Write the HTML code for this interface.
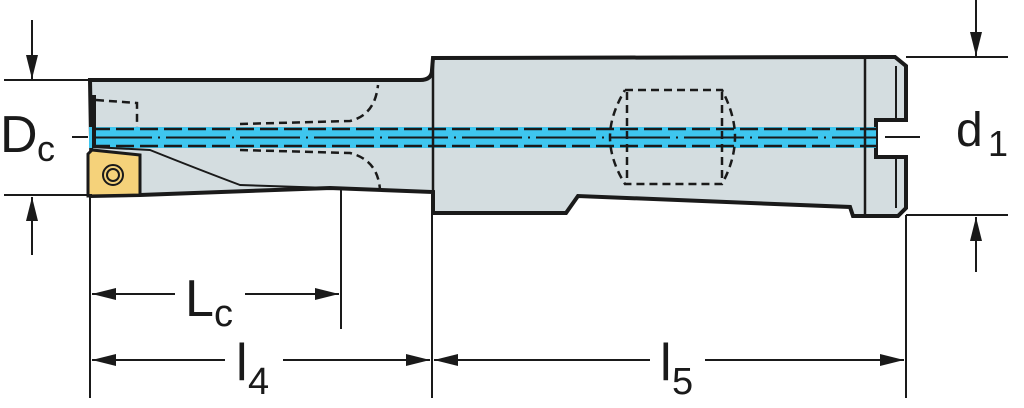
<!DOCTYPE html>
<html><head><style>html,body{margin:0;padding:0;background:#fff}svg{display:block}text{font-family:"Liberation Sans","DejaVu Sans",sans-serif;fill:#1a1a1a}</style></head>
<body>
<svg width="1024" height="408" viewBox="0 0 1024 408" xmlns="http://www.w3.org/2000/svg">
<defs><marker id="a" viewBox="0 0 12 24" refX="6" refY="24" markerWidth="12" markerHeight="24" markerUnits="userSpaceOnUse" orient="0"><path d="M0,0L12,0L6,24z" fill="#1a1a1a"/></marker>
<marker id="u" viewBox="0 0 12 24" refX="6" refY="0" markerWidth="12" markerHeight="24" markerUnits="userSpaceOnUse" orient="0"><path d="M6,0L12,24L0,24z" fill="#1a1a1a"/></marker>
<marker id="b" viewBox="0 0 24 12" refX="24" refY="6" markerWidth="24" markerHeight="12" markerUnits="userSpaceOnUse" orient="auto"><path d="M0,0L24,6L0,12z" fill="#1a1a1a"/></marker></defs>
<g stroke="#1a1a1a" fill="none">
<path d="M90,80 L420,80 Q432,80 432,70 L433,58 L895,57 L906,66 L906,120 L876,120 L876,157 L906,157 L906,208 L898,216 L853,216 L850,207 L578,196 L566,213 L433,213 L433,192 L330,188 L140,195 L92,196 Z" fill="#d4dde0" stroke-width="4"/>
<rect x="89" y="127" width="787" height="21" fill="#3ec6ef" stroke="none"/>
<line x1="865" y1="58" x2="865" y2="214" stroke-width="2.5"/>
<line x1="433" y1="60" x2="433" y2="212" stroke-width="2.5"/>
<line x1="896" y1="66" x2="896" y2="120" stroke-width="2"/>
<line x1="896" y1="157" x2="896" y2="208" stroke-width="2"/>
<path d="M92,150 L88,154 L88,196 L140,195 L140,155 Z" fill="#f5d27a" stroke-width="3"/>
<circle cx="113" cy="175" r="10" stroke-width="2"/><circle cx="113" cy="175" r="6" stroke-width="2"/>
<path d="M92,147 L150,150 Q200,170 240,185 L330,188" stroke-width="2"/>
<path d="M94,147 L94,95" stroke-width="4"/>
<g stroke-dasharray="8,5" stroke-width="2.5">
<path d="M96,100 L137,103 L137,127"/>
<path d="M240,124 L350,121 Q375,115 378,85"/>
<path d="M240,150 L350,153 Q378,160 380,190"/>
<path d="M625,90 L722,90 Q735,115 735,137 Q735,160 722,184 L625,184 Q610,160 610,137 Q610,115 625,90"/>
<line x1="627" y1="92" x2="627" y2="182"/><line x1="722" y1="92" x2="722" y2="182"/>
<line x1="92" y1="129" x2="876" y2="129" stroke-dasharray="18,6"/>
<line x1="92" y1="146" x2="876" y2="146" stroke-dasharray="18,6"/>
</g>
<line x1="92" y1="137.5" x2="876" y2="137.5" stroke-width="2" stroke-dasharray="60,6,2,6"/>
<g stroke-width="2">
<line x1="4" y1="80" x2="92" y2="80"/><line x1="4" y1="195" x2="92" y2="195"/>
<line x1="72" y1="137" x2="88" y2="137"/>
<line x1="906" y1="57" x2="1008" y2="57"/><line x1="906" y1="215" x2="1008" y2="215"/>
<line x1="885" y1="137" x2="920" y2="137"/>
<line x1="90" y1="196" x2="90" y2="398"/><line x1="341" y1="190" x2="341" y2="329"/>
<line x1="432" y1="213" x2="432" y2="398"/><line x1="906" y1="215" x2="906" y2="398"/>
<line x1="32" y1="20" x2="32" y2="79" marker-end="url(#a)"/>
<line x1="32" y1="255" x2="32" y2="197" marker-end="url(#u)"/>
<line x1="976" y1="0" x2="976" y2="56" marker-end="url(#a)"/>
<line x1="976" y1="272" x2="976" y2="217" marker-end="url(#u)"/>
<line x1="175" y1="294" x2="92" y2="294" marker-end="url(#b)"/>
<line x1="245" y1="294" x2="339" y2="294" marker-end="url(#b)"/>
<line x1="225" y1="360" x2="92" y2="360" marker-end="url(#b)"/>
<line x1="283" y1="360" x2="430" y2="360" marker-end="url(#b)"/>
<line x1="650" y1="360" x2="434" y2="360" marker-end="url(#b)"/>
<line x1="705" y1="360" x2="904" y2="360" marker-end="url(#b)"/>
</g></g>
<text x="0" y="152" font-size="52">D</text><text x="37" y="161" font-size="36">c</text>
<text x="956" y="146" font-size="48">d</text><text x="988" y="156" font-size="36">1</text>
<text x="185" y="316" font-size="52">L</text><text x="214" y="326" font-size="38">c</text>
<text x="236" y="380" font-size="52">l</text><text x="248" y="394" font-size="38">4</text>
<text x="660" y="380" font-size="52">l</text><text x="672" y="394" font-size="38">5</text>
</svg>
</body></html>
